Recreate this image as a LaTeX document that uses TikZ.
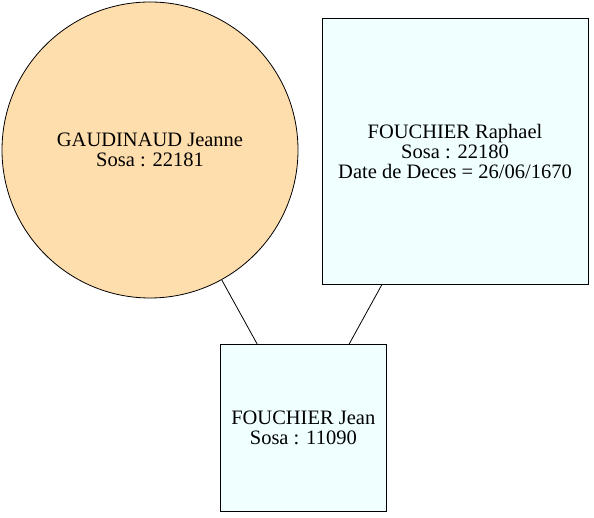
\documentclass[tikz,border=0pt]{standalone}
\usepackage{fontspec}
\setmainfont{Liberation Serif}
\definecolor{navajo}{HTML}{FFDEAD}
\definecolor{azur}{HTML}{F0FFFF}
\begin{document}
\begin{tikzpicture}[x=1pt, y=1pt, line width=0.8pt,
        font=\fontsize{20.5}{20}\selectfont,
        femme/.style={circle, draw, fill=navajo, inner sep=0pt, minimum size=296pt, align=center},
        homme/.style={rectangle, draw, fill=azur, inner sep=0pt, align=center}]
        \useasboundingbox (0,0) rectangle (594,518);
        \node[femme] (jeanne) at (150,368) {GAUDINAUD Jeanne\\Sosa : 22181};
        \node[homme, minimum size=266pt] (raphael) at (455,366.7) {FOUCHIER Raphael\\Sosa : 22180\\Date de Deces = 26/06/1670};
        \node[homme, minimum size=166.5pt] (jean) at (303.3,90) {FOUCHIER Jean\\Sosa : 11090};

        \draw (jeanne) -- (jean);
        \draw (raphael) -- (jean);
    \end{tikzpicture}
\end{document}
